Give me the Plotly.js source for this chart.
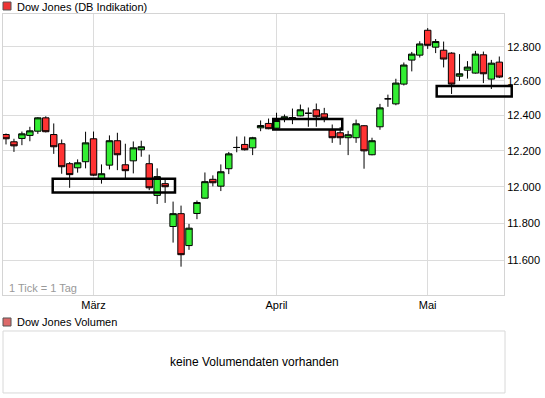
<!DOCTYPE html>
<html>
<head>
<meta charset="utf-8">
<script src="https://cdn.plot.ly/plotly-3.0.1.min.js"></script>
<style>html,body{margin:0;padding:0;background:#fff;}#chart{width:545px;height:398px;}</style>
</head>
<body>
<div id="chart"></div>
<script>
// Trading days (DB Indikation calendar)
const dates = [
 '2011-02-14','2011-02-15','2011-02-16','2011-02-17','2011-02-18','2011-02-21','2011-02-22','2011-02-23','2011-02-24','2011-02-25','2011-02-28',
 '2011-03-01','2011-03-02','2011-03-03','2011-03-04','2011-03-07','2011-03-08','2011-03-09','2011-03-10','2011-03-11','2011-03-14','2011-03-15','2011-03-16','2011-03-17','2011-03-18','2011-03-21','2011-03-22','2011-03-23','2011-03-24','2011-03-25','2011-03-28','2011-03-29','2011-03-30','2011-03-31',
 '2011-04-01','2011-04-04','2011-04-05','2011-04-06','2011-04-07','2011-04-08','2011-04-11','2011-04-12','2011-04-13','2011-04-14','2011-04-15','2011-04-18','2011-04-19','2011-04-20','2011-04-21','2011-04-26','2011-04-27','2011-04-28','2011-04-29',
 '2011-05-02','2011-05-03','2011-05-04','2011-05-05','2011-05-06','2011-05-09','2011-05-10','2011-05-11','2011-05-12','2011-05-13'
];
const openV = [12292,12251,12270,12287,12311,12387,12292,12240,12128,12105,12139,
 12268,12044,12120,12257,12122,12144,12206,12128,11952,12017,11782,11852,11679,11853,11937,12041,12003,12100,12219,12236,12217,12330,12355,
 12328,12381,12388,12398,12413,12433,12410,12319,12302,12274,12274,12342,12178,12336,12496,12467,12581,12721,12750,
 12897,12797,12779,12762,12627,12662,12645,12752,12610,12709];
const highV = [12298,12268,12309,12336,12391,12396,12355,12264,12137,12152,12308,
 12309,12124,12287,12302,12240,12253,12257,12179,12102,12041,11918,11896,11796,11924,12079,12063,12124,12194,12281,12281,12279,12372,12383,
 12416,12406,12440,12463,12446,12469,12444,12349,12334,12313,12377,12345,12274,12467,12520,12612,12707,12769,12832,
 12910,12845,12830,12767,12756,12715,12775,12771,12722,12742];
const lowV = [12236,12194,12232,12254,12296,12304,12183,12072,11994,12078,12102,
 12060,12017,12096,12092,12044,12074,12167,11981,11905,11911,11695,11566,11656,11822,11935,12002,11976,12070,12192,12202,12176,12311,12322,
 12326,12362,12351,12396,12336,12336,12362,12245,12234,12176,12245,12100,12175,12319,12450,12459,12573,12655,12736,
 12787,12762,12678,12524,12600,12613,12642,12587,12553,12616];
const closeV = [12268,12228,12296,12313,12387,12308,12223,12111,12067,12133,12245,
 12064,12072,12257,12178,12089,12217,12223,11994,12056,12000,11852,11630,11773,11913,12028,12022,12083,12183,12219,12206,12274,12343,12325,
 12372,12393,12388,12433,12413,12393,12385,12274,12274,12291,12353,12200,12257,12444,12496,12587,12692,12756,12816,
 12808,12830,12727,12581,12641,12680,12756,12641,12703,12622];

const xTickVals = ['2011-03-01','2011-04-01','2011-05-02'];
const xTickText = ['März','April','Mai'];
const yTickVals = [11600,11800,12000,12200,12400,12600,12800];
const yTickText = ['11.600','11.800','12.000','12.200','12.400','12.600','12.800'];

// highlighted zones: start/end (trading-day index) and price band
const zoneStart = [5.87, 33.59, 54.13];
const zoneEnd   = [21.24, 42.26, 63.56];
const zoneLow   = [11968, 12321, 12509];
const zoneHigh  = [12044, 12381, 12570];

const FONT = 'Liberation Sans, Arial, sans-serif';
const xRange = [-0.377, 62.59];
const toPaperX = i => (i - xRange[0]) / (xRange[1] - xRange[0]);

const trace = {
  type: 'candlestick',
  x: dates, open: openV, high: highV, low: lowV, close: closeV,
  increasing: {fillcolor: '#33ee33', line: {color: '#000', width: 1}},
  decreasing: {fillcolor: '#ff3333', line: {color: '#000', width: 1}},
  whiskerwidth: 0,
  hoverinfo: 'skip',
  showlegend: false
};

const shapes = [];
for (let k = 0; k < zoneStart.length; k++) {
  shapes.push({type: 'rect', xref: 'paper', yref: 'y',
    x0: toPaperX(zoneStart[k]), x1: toPaperX(zoneEnd[k]), y0: zoneLow[k], y1: zoneHigh[k],
    line: {color: '#000', width: 2.5}, fillcolor: 'rgba(0,0,0,0)', layer: 'above'});
}
// legend squares
shapes.push({type: 'rect', xref: 'paper', yref: 'paper', x0: 0.0, x1: 0.016, y0: 1.0106, y1: 1.0317,
  fillcolor: '#ee3333', line: {color: '#555', width: 1}});
shapes.push({type: 'rect', xref: 'paper', yref: 'paper', x0: 0.0, x1: 0.016, y0: 0.1746, y1: 0.1958,
  fillcolor: '#dd6a6a', line: {color: '#555', width: 1}});
// volume panel frame
shapes.push({type: 'rect', xref: 'paper', yref: 'paper', x0: 0.0, x1: 1.002, y0: -0.0026, y1: 0.1614,
  fillcolor: 'rgba(0,0,0,0)', line: {color: '#d8d8d8', width: 1}});

const layout = {
  width: 545, height: 398,
  margin: {l: 3, r: 41, t: 14, b: 6, pad: 0},
  paper_bgcolor: '#fff', plot_bgcolor: '#fff',
  font: {family: FONT, size: 11, color: '#000'},
  showlegend: false,
  boxgap: 0.12, boxgroupgap: 0.08,
  xaxis: {
    type: 'category', range: xRange, domain: [0, 1], anchor: 'y',
    tickmode: 'array', tickvals: xTickVals, ticktext: xTickText,
    showgrid: true, gridcolor: '#dcdcdc', gridwidth: 1,
    showline: true, mirror: true, linecolor: '#d4d4d4', linewidth: 1,
    ticks: '', tickfont: {size: 11, color: '#000', family: FONT},
    rangeslider: {visible: false}, fixedrange: true, zeroline: false
  },
  yaxis: {
    type: 'log', range: [Math.log10(11416), Math.log10(12994)], domain: [0.2566, 1], anchor: 'x',
    side: 'right', tickmode: 'array', tickvals: yTickVals, ticktext: yTickText,
    showgrid: true, gridcolor: '#dcdcdc', gridwidth: 1,
    showline: true, mirror: true, linecolor: '#d4d4d4', linewidth: 1,
    ticks: '', tickfont: {size: 11, color: '#000', family: FONT},
    fixedrange: true, zeroline: false
  },
  shapes: shapes,
  annotations: [
    {xref: 'paper', yref: 'paper', x: 0.024, y: 1.0185, xanchor: 'left', yanchor: 'middle',
     text: 'Dow Jones (DB Indikation)', showarrow: false, font: {size: 11, color: '#000', family: FONT}},
    {xref: 'paper', yref: 'paper', x: 0.024, y: 0.185, xanchor: 'left', yanchor: 'middle',
     text: 'Dow Jones Volumen', showarrow: false, font: {size: 11, color: '#000', family: FONT}},
    {xref: 'paper', yref: 'paper', x: 0.501, y: 0.079, xanchor: 'center', yanchor: 'middle',
     text: 'keine Volumendaten vorhanden', showarrow: false, font: {size: 12, color: '#000', family: FONT}},
    {xref: 'paper', yref: 'paper', x: 0.008, y: 0.275, xanchor: 'left', yanchor: 'middle',
     text: '1 Tick = 1 Tag', showarrow: false, font: {size: 11, color: '#999', family: FONT}}
  ]
};

Plotly.newPlot('chart', [trace], layout, {staticPlot: true, displayModeBar: false});
</script>
</body>
</html>
